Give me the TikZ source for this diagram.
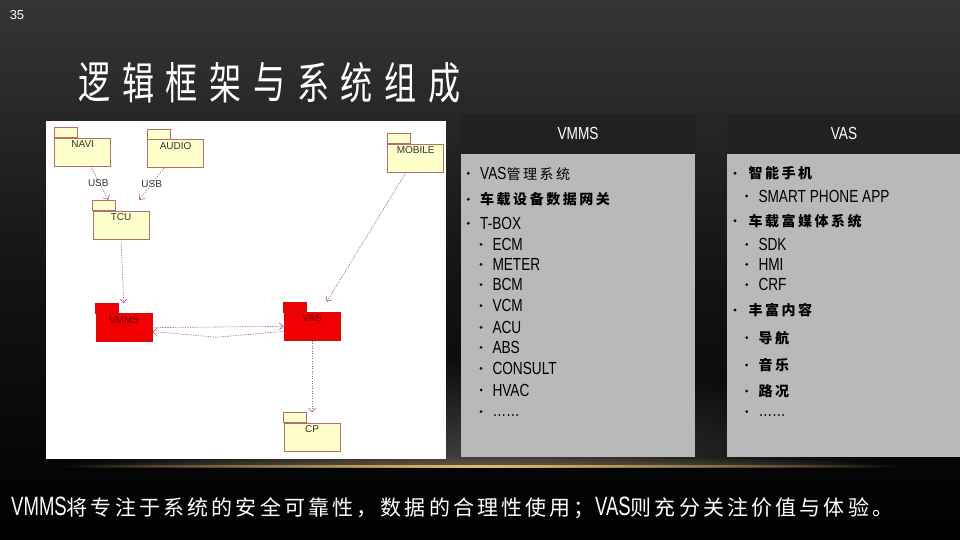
\documentclass[tikz,border=0pt]{standalone}
\usepackage{fontspec}
\setmainfont{Liberation Sans}
\newfontfamily\pl[FakeStretch=0.78]{Liberation Sans}
\newfontfamily\pc[LetterSpace=18]{Noto Sans CJK SC}
\newfontfamily\bl[FakeStretch=0.7]{Liberation Sans}
\newfontfamily\bc[LetterSpace=15]{Noto Sans CJK SC}
\newfontfamily\tc[FakeStretch=0.73]{Noto Sans CJK SC}
\usetikzlibrary{arrows.meta,calc,fadings}

\definecolor{bgtop}{HTML}{353535}
\definecolor{bgmid}{HTML}{141414}
\definecolor{pkgfill}{HTML}{FFFFCC}
\definecolor{pkgline}{HTML}{B46E6E}
\definecolor{redfill}{HTML}{F00000}
\definecolor{redline}{HTML}{CC1010}
\definecolor{dep}{HTML}{A8508C}
\definecolor{panelgray}{HTML}{B9B9B9}
\definecolor{panelhead}{HTML}{212121}
\definecolor{gold}{HTML}{E2BE72}
\definecolor{glowgray}{HTML}{444444}

\tikzfading[name=hfade, left color=transparent!100, right color=transparent!100, middle color=transparent!0]
\tikzfading[name=glowfade, inner color=transparent!0, outer color=transparent!100]

\tikzset{
  pkg/.style={draw=pkgline, fill=pkgfill, line width=0.7pt, minimum width=56pt,
    minimum height=28pt, inner sep=0pt, anchor=north west},
  redpkg/.style={pkg, draw=redline, fill=redfill},
  pkgtab/.style={draw=pkgline, fill=pkgfill, line width=0.7pt},
  redtab/.style={draw=redline, fill=redfill, line width=0.7pt},
  pkglabel/.style={font=\fontsize{10}{11}\selectfont, text=black!80, anchor=center, inner sep=0pt},
  redlabel/.style={pkglabel, text=red!40!black},
  deparrow/.style={draw=dep, line width=0.6pt, dash pattern=on 1.2pt off 1.3pt,
    -{Straight Barb[length=4pt,width=7pt,line width=0.6pt]}},
  ptext/.style={anchor=base west, inner sep=0pt, text=black, font=\pl\fontsize{17.5}{20}\selectfont},
  ctext/.style={anchor=base west, inner sep=0pt, text=black, font=\pc\bfseries\fontsize{14}{16}\selectfont},
  headtext/.style={anchor=center, inner sep=0pt, text=white, font=\pl\fontsize{17.5}{20}\selectfont},
  titlech/.style={anchor=center, inner sep=0pt, text=white, font=\tc\fontsize{44}{48}\selectfont},
}

\begin{document}
\begin{tikzpicture}[x=1pt,y=-1pt]
\useasboundingbox (0,0) rectangle (960,540);
% background
\shade[top color=bgtop, bottom color=black, middle color=bgmid] (0,0) rectangle (960,540);
\begin{scope}
  \clip (0,360) rectangle (960,466);
  \fill[glowgray, path fading=glowfade] (80,360) rectangle (880,572);
\end{scope}
% golden line
\begin{scope}
  \clip (0,456) rectangle (960,466);
  \fill[gold!45!black, path fading=glowfade] (60,456) rectangle (900,476);
\end{scope}
\fill[gold, path fading=hfade] (60,465.3) rectangle (900,468);

% page number
\node[anchor=center, inner sep=0pt, text=white, font=\fontsize{13}{14}\selectfont] (pnum) at (17,15) {35};

% title
\foreach \c [count=\i from 0] in {逻,辑,框,架,与,系,统,组,成}
  \node[titlech] (t\i) at (94.5+\i*43.75, 82.5) {\c};

% diagram canvas
\fill[white] (46,121) rectangle (446,459);

% packages
\node[pkg] (navi) at (54.3,137.7) {};
\node[pkg] (audio) at (147.3,139.3) {};
\node[pkg] (mobile) at (387.3,143.7) {};
\node[pkg] (tcu) at (92.7,210.7) {};
\node[redpkg] (vmms) at (95.7,313.3) {};
\node[redpkg] (vas) at (283.7,312) {};
\node[pkg] (cp) at (283.7,422.7) {};
\foreach \n in {navi,audio,mobile,tcu,cp}
  \draw[pkgtab] (\n.north west) rectangle ([xshift=23pt,yshift=10pt]\n.north west);
\foreach \n in {vmms,vas}
  \draw[redtab] (\n.north west) rectangle ([xshift=23pt,yshift=10pt]\n.north west);

\node[pkglabel] (navil) at ([yshift=-6.5pt]navi.north) {NAVI};
\node[pkglabel] (audiol) at ([yshift=-6.5pt]audio.north) {AUDIO};
\node[pkglabel] (mobilel) at ([yshift=-6.5pt]mobile.north) {MOBILE};
\node[pkglabel] (tcul) at ([yshift=-6.5pt]tcu.north) {TCU};
\node[redlabel] (vmmsl) at ([yshift=-6.5pt]vmms.north) {VMMS};
\node[redlabel] (vasl) at ([yshift=-6.2pt]vas.north) {VAS};
\node[pkglabel] (cpl) at ([yshift=-6.2pt]cp.north) {CP};

% connectors
\draw[deparrow] ([xshift=36.4pt]navi.south west) -- ([xshift=15.6pt,yshift=10.7pt]tcu.north west);
\draw[deparrow] ([xshift=16.7pt]audio.south west) -- ([xshift=46.6pt,yshift=10.7pt]tcu.north west);
\draw[deparrow] (tcu.south) -- ([xshift=28pt,yshift=10pt]vmms.north west);
\draw[deparrow] ([xshift=18.7pt]mobile.south west) -- ([xshift=43pt,yshift=10.3pt]vas.north west);
\draw[deparrow] (vmms.east) -- (vas.west);
\coordinate (mid) at (216.7,337.3);
\draw[deparrow] ([yshift=-5pt]vas.west) -- (mid) -- ([yshift=-3.8pt]vmms.east);
\draw[deparrow] (vas.south) -- ([yshift=10.3pt]cp.north);
\node[pkglabel] (usb1) at (98.3,182.7) {USB};
\node[pkglabel] (usb2) at (151.7,184) {USB};

% VMMS panel
\fill[panelhead] (461,114) rectangle (695,154);
\fill[panelgray] (461,154) rectangle (695,456.5);
\node[headtext] (vmmsh) at (578,133) {VMMS};
\fill (468.3,173.3) circle[radius=1.6pt];
\node[ptext] (a1) at (480,179.3) {VAS{\pc\fontsize{14}{16}\selectfont 管理系统}};
\fill (468.3,199.3) circle[radius=1.6pt];
\node[ctext] (a2) at (480,204.8) {车载设备数据网关};
\fill (468.3,223.3) circle[radius=1.6pt];
\node[ptext] (a3) at (480,229.3) {T-BOX};
\foreach \t/\y [count=\i] in {ECM/244.3, METER/264.3, BCM/284.7, VCM/305.7, ACU/327.3, ABS/347.3, CONSULT/368.3, HVAC/390}{
  \fill (481,\y) circle[radius=1.5pt];
  \node[ptext] (b\i) at (492.3,\y+6) {\t};
}
\fill (481,411.7) circle[radius=1.5pt];
\node[ptext] (b9) at (492.3,416.5) {……};

% VAS panel
\fill[panelhead] (727,114) rectangle (960,154);
\fill[panelgray] (727,154) rectangle (960,456.5);
\node[headtext] (vash) at (844,133) {VAS};
\fill (735,173.3) circle[radius=1.6pt];
\node[ctext] (c1) at (748.3,178.8) {智能手机};
\fill (746.7,196) circle[radius=1.5pt];
\node[ptext] (c2) at (758.3,202) {SMART PHONE APP};
\fill (735,220.7) circle[radius=1.6pt];
\node[ctext] (c3) at (748.3,226.2) {车载富媒体系统};
\foreach \t/\y [count=\i] in {SDK/244.3, HMI/264.3, CRF/284.7}{
  \fill (746.7,\y) circle[radius=1.5pt];
  \node[ptext] (d\i) at (758.3,\y+6) {\t};
}
\fill (735,310) circle[radius=1.6pt];
\node[ctext] (c4) at (748.3,315.5) {丰富内容};
\foreach \t/\y [count=\i] in {导航/337.7, 音乐/365, 路况/391}{
  \fill (746.7,\y) circle[radius=1.5pt];
  \node[ctext] (e\i) at (758.3,\y+5.5) {\t};
}
\fill (746.7,411.7) circle[radius=1.5pt];
\node[ptext] (e4) at (758.3,416.5) {……};

% bottom statement
\node[anchor=base west, inner sep=0pt, text=white] (stmt) at (11,515)
  {{\bl\fontsize{26.5}{30}\selectfont VMMS}{\bc\fontsize{21}{24}\selectfont 将专注于系统的安全可靠性，数据的合理性使用；}{\bl\fontsize{26.5}{30}\selectfont VAS}{\bc\fontsize{21}{24}\selectfont 则充分关注价值与体验。}};
\end{tikzpicture}
\end{document}
